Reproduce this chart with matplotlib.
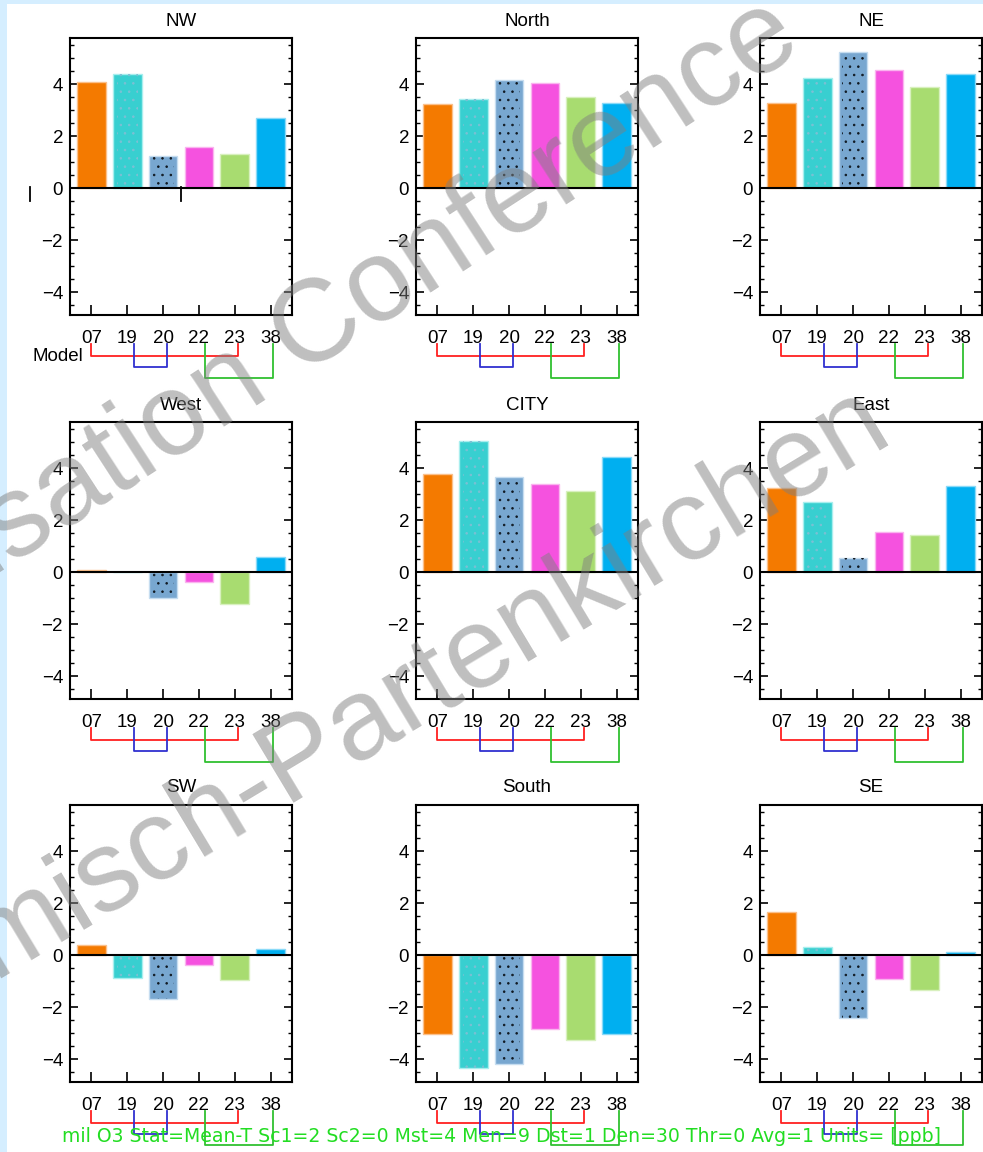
import matplotlib
matplotlib.use('Agg')
import matplotlib.pyplot as plt
import matplotlib.transforms as mtransforms
from matplotlib.patches import Rectangle
from matplotlib.lines import Line2D
from matplotlib.ticker import MultipleLocator

W, H = 983, 1152

# model ids on the x axis, one bar per model
MODELS = ['07', '19', '20', '22', '23', '38']
REGIONS = ['NW', 'North', 'NE', 'West', 'CITY', 'East', 'SW', 'South', 'SE']

# mean O3 difference per region [ppb]
nw = [4.09, 4.38, 1.25, 1.60, 1.32, 2.68]
north = [3.22, 3.41, 4.15, 4.03, 3.49, 3.28]
ne = [3.28, 4.22, 5.24, 4.56, 3.90, 4.37]
west = [0.09, 0.0, -0.98, -0.37, -1.24, 0.60]
city = [3.77, 5.05, 3.64, 3.38, 3.11, 4.44]
east = [3.24, 2.69, 0.56, 1.56, 1.42, 3.30]
sw = [0.38, -0.89, -1.69, -0.36, -0.96, 0.23]
south = [-3.04, -4.34, -4.19, -2.85, -3.26, -3.04]
se = [1.66, 0.32, -2.43, -0.90, -1.35, 0.11]
VALUES = [nw, north, ne, west, city, east, sw, south, se]

BAR_COLORS = ['#F47A00', '#38CFD0', '#78A7D0', '#F552DF', '#A8DC70', '#00AFF0']
BAR_EDGES = ['#FBC08A', '#A8EEEE', '#C6DDF0', '#FAB4EF', '#D8F0BE', '#8ADAF8']
HATCHES = [None, '..', '..', None, None, None]
HATCH_COLORS = [None, '#7CC0D4', '#101820', None, None, None]

# model grouping brackets: x from, x to, drop below axes [px], colour
BRACKETS = [(0.0, 4.08, 41, '#FF2020'),
            (1.2, 2.10, 52, '#3030D0'),
            (3.17, 5.07, 63, '#30C030')]

COL_X = [70, 416, 760]
ROW_Y = [38, 422, 805]
AX_W, AX_H = 222, 277

FONT = 'Liberation Sans'
plt.rcParams['font.family'] = [FONT, 'DejaVu Sans']
plt.rcParams['hatch.linewidth'] = 0.6


def px_axes(fig, x, y, w, h):
    return fig.add_axes([x / W, 1 - (y + h) / H, w / W, h / H])


def panel(ax, title, vals):
    xs = list(range(len(MODELS)))
    ax.bar(xs, vals, width=0.8, color=BAR_COLORS, edgecolor=BAR_EDGES,
           linewidth=1.0, zorder=2)
    for x, v, h, hc in zip(xs, vals, HATCHES, HATCH_COLORS):
        if h is None or v == 0:
            continue
        ax.bar([x], [v], width=0.6, facecolor='none', edgecolor=hc,
               linewidth=0, hatch=h, zorder=3)
    ax.axhline(0, color='black', lw=1.5, zorder=4)

    ax.set_xlim(-0.6, 5.6)
    ax.set_ylim(-4.87, 5.77)
    ax.set_xticks(xs)
    ax.set_xticklabels(MODELS)
    ax.yaxis.set_major_locator(MultipleLocator(2))
    ax.yaxis.set_minor_locator(MultipleLocator(0.5))
    ax.tick_params(axis='y', which='major', direction='in', length=6,
                   width=1.2, left=True, right=True, labelsize=13.5, pad=5)
    ax.tick_params(axis='y', which='minor', direction='in', length=3,
                   width=1.0, left=True, right=True)
    ax.tick_params(axis='x', which='major', direction='in', length=7,
                   width=1.2, bottom=True, top=False, labelsize=13.5, pad=11)
    for s in ax.spines.values():
        s.set_linewidth(1.5)
    ax.set_title(title, fontsize=13.5, pad=9)

    trans = mtransforms.blended_transform_factory(ax.transData, ax.transAxes)
    top = -29 / AX_H
    for x0, x1, drop, c in BRACKETS:
        bot = -drop / AX_H
        ax.add_line(Line2D([x0, x0, x1, x1], [top, bot, bot, top],
                           color=c, lw=1.3, transform=trans, clip_on=False))


fig = plt.figure(figsize=(W / 100, H / 100), dpi=100, facecolor='#D5EEFF')
fig.patches.append(Rectangle((7 / W, 0), 1, 1 - 4 / H, transform=fig.transFigure,
                             facecolor='white', edgecolor='none', zorder=-10))

for i, (name, vals) in enumerate(zip(REGIONS, VALUES)):
    r, c = divmod(i, 3)
    ax = px_axes(fig, COL_X[c], ROW_Y[r], AX_W, AX_H)
    panel(ax, name, vals)

fig.text(32 / W, 1 - 357 / H, 'Model', fontsize=13.5, ha='left', va='center')

# stray marks near the first panel
for x in (30, 181):
    fig.add_artist(Line2D([x / W, x / W], [1 - 187 / H, 1 - 201 / H],
                          color='black', lw=1.3, transform=fig.transFigure))

fig.text(62 / W, 1 - 1137 / H,
         'mil O3 Stat=Mean-T Sc1=2 Sc2=0 Mst=4 Men=9 Dst=1 Den=30 Thr=0 Avg=1 Units= [ppb]',
         fontsize=13.6, color='#22DD22', ha='left', va='center', family='DejaVu Sans')

wm = dict(color='#808080', alpha=0.5, rotation_mode='anchor', ha='right',
          va='baseline', family=FONT, zorder=20)
fig.text(805 / W, 1 - 50 / H, 'Harmonisation Conference', fontsize=84,
         rotation=33, **wm)
fig.text(895 / W, 1 - 438 / H, 'Garmisch-Partenkirchen', fontsize=83,
         rotation=31, **wm)

fig.savefig('out.png', dpi=100, facecolor=fig.get_facecolor())
